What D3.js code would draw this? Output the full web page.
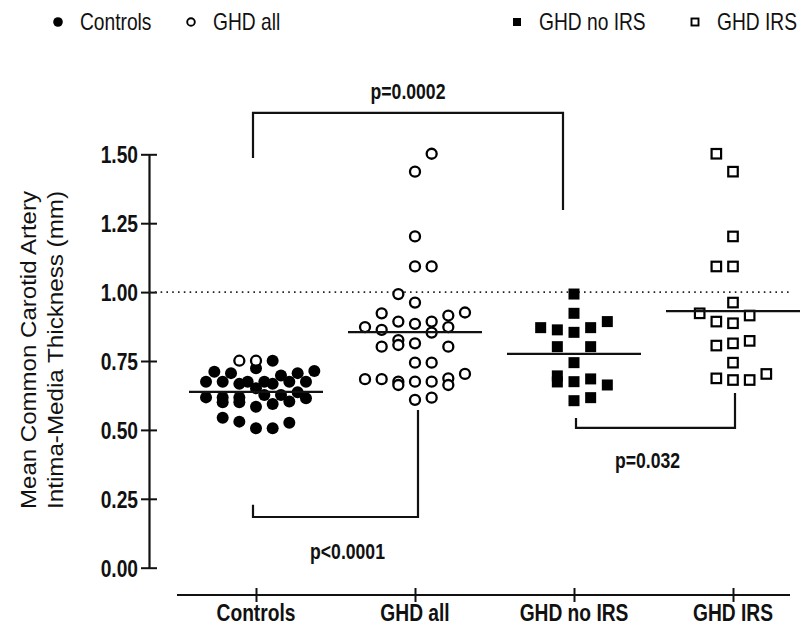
<!DOCTYPE html>
<html>
<head>
<meta charset="UTF-8">
<title>CIMT dot plot</title>
<script src="https://cdn.jsdelivr.net/npm/d3@7"></script>
<style>
  body { margin: 0; background: #fff; }
  text { font-family: "Liberation Sans", Arial, sans-serif; fill: #111; }
</style>
</head>
<body>
<script>
// ---- data ----
var categories = ["Controls", "GHD all", "GHD no IRS", "GHD IRS"];
var yTicks = [0, 0.25, 0.5, 0.75, 1.0, 1.25, 1.5];

// lane = side-by-side slot of a point inside its column (0 = centre)
var controlsVals  = [0.751, 0.724, 0.711, 0.706, 0.714, 0.706, 0.697, 0.675, 0.675, 0.667, 0.675,
                     0.675, 0.667, 0.675, 0.675, 0.651, 0.618, 0.618, 0.618, 0.627, 0.627, 0.637,
                     0.615, 0.600, 0.600, 0.584, 0.594, 0.603, 0.544, 0.530, 0.506, 0.506, 0.526];
var controlsLanes = [2, 0, -5, -3, 7, 5, 3, -6, -4, -2, -1,
                     1, 2, 4, 6, 0, -6, -4, -2, 1, 3, 5,
                     6, -4, -2, 0, 2, 4, -4, -2, 0, 2, 4];
var controlsOpenVals  = [0.751, 0.751];
var controlsOpenLanes = [-2, 0];

var ghdAllVals  = [1.502, 1.437, 1.202, 1.093, 1.093, 0.993, 0.962, 0.923, 0.926, 0.915, 0.893,
                   0.885, 0.893, 0.873, 0.863, 0.873, 0.853, 0.826, 0.808, 0.802, 0.814, 0.802,
                   0.744, 0.744, 0.684, 0.684, 0.675, 0.663, 0.675, 0.675, 0.687, 0.663, 0.703,
                   0.609, 0.617];
var ghdAllLanes = [2, 0, 0, 0, 2, -2, 0, -4, 6, 4, -2,
                   0, 2, -6, -4, 4, 2, -2, -2, -4, 0, 4,
                   0, 2, -6, -4, -2, -2, 0, 2, 4, 4, 6,
                   0, 2];

var ghdNoIrsVals  = [0.993, 0.923, 0.871, 0.863, 0.854, 0.871, 0.893, 0.802, 0.802, 0.744,
                     0.696, 0.674, 0.675, 0.685, 0.663, 0.606, 0.617];
var ghdNoIrsLanes = [0, 0, -4, -2, 0, 2, 4, -2, 2, 0,
                     -2, -2, 0, 2, 4, 0, 2];

var ghdIrsVals  = [1.502, 1.437, 1.202, 1.093, 1.093, 0.962, 0.923, 0.915, 0.893, 0.887,
                   0.806, 0.814, 0.823, 0.744, 0.687, 0.681, 0.681, 0.703];
var ghdIrsLanes = [-2, 0, 0, -2, 0, 0, -4, 2, -2, 0,
                   -2, 0, 2, 0, -2, 0, 2, 4];

var groupMeans = [0.638, 0.855, 0.776, 0.931];
var refValue = 1.0;

var legendLabels = ["Controls", "GHD all", "GHD no IRS", "GHD IRS"];

// ---- layout ----
var W = 806, H = 628;
var sx = 0.8; // text is drawn narrow, like the original
var yAxisX = 149, xAxisY = 595;

var svg = d3.select("body").append("svg")
  .attr("width", W).attr("height", H);

var y = d3.scaleLinear().domain([0, 1.5]).range([567.7, 154.3]);
var x = d3.scalePoint().domain(categories).range([256, 733]);
var lane = d3.scaleLinear().domain([0, 1]).range([0, 8.33]);

function narrowText(g, px, py, str, opts) {
  opts = opts || {};
  return g.append("text")
    .attr("transform", "translate(" + px + "," + py + ") scale(" + sx + ",1)")
    .attr("text-anchor", opts.anchor || "start")
    .style("font-size", (opts.size || 24) + "px")
    .style("font-weight", opts.bold ? "bold" : "normal")
    .text(str);
}

// y axis
var yAxis = svg.append("g")
  .attr("transform", "translate(" + yAxisX + ",0)")
  .call(d3.axisLeft(y).tickValues(yTicks).tickFormat(d3.format(".2f")).tickSizeOuter(0));
yAxis.select(".domain").attr("stroke", "#111").attr("stroke-width", 2.2);
yAxis.selectAll(".tick line").attr("x1", -8).attr("x2", 8).attr("stroke", "#111").attr("stroke-width", 2);
yAxis.selectAll(".tick text")
  .attr("x", -11 / sx).attr("dy", "0.35em")
  .attr("transform", "scale(" + sx + ",1)")
  .style("font-size", "24px").style("font-weight", "bold")
  .style("font-family", "'Liberation Sans', Arial, sans-serif").attr("fill", "#111");

// x axis (drawn offset below the y axis)
svg.append("line")
  .attr("x1", 177).attr("x2", 790).attr("y1", xAxisY).attr("y2", xAxisY)
  .attr("stroke", "#111").attr("stroke-width", 2.2);
var xAxis = svg.append("g")
  .attr("transform", "translate(0," + xAxisY + ")")
  .call(d3.axisBottom(x).tickSizeOuter(0));
xAxis.select(".domain").remove();
xAxis.selectAll(".tick line").attr("y1", -7).attr("y2", 7).attr("stroke", "#111").attr("stroke-width", 2);
xAxis.selectAll(".tick text").remove();
categories.forEach(function(c) {
  narrowText(svg, x(c), 621, c, {anchor: "middle", bold: true});
});

// y title
var yTitle = svg.append("g");
[["Mean Common Carotid Artery", 36], ["Intima-Media Thickness (mm)", 63]].forEach(function(l) {
  yTitle.append("text")
    .attr("transform", "translate(" + l[1] + ",350) scale(0.95,1) rotate(-90)")
    .attr("text-anchor", "middle")
    .style("font-size", "24px")
    .attr("textLength", 318).attr("lengthAdjust", "spacingAndGlyphs")
    .text(l[0]);
});

// reference line at 1.00
svg.append("line")
  .attr("x1", yAxisX).attr("x2", 790)
  .attr("y1", y(refValue)).attr("y2", y(refValue))
  .attr("stroke", "#222").attr("stroke-width", 1.6).attr("stroke-dasharray", "1.6,4.2");

// points
function drawGroup(cat, vals, lanes, shape, filled) {
  var g = svg.append("g");
  var pts = vals.map(function(v, i) { return {v: v, l: lanes[i]}; });
  if (shape === "circle") {
    g.selectAll("circle").data(pts).enter().append("circle")
      .attr("cx", function(d) { return x(cat) + lane(d.l); })
      .attr("cy", function(d) { return y(d.v); })
      .attr("r", filled ? 6 : 5)
      .attr("fill", filled ? "#000" : "#fff")
      .attr("stroke", "#000").attr("stroke-width", filled ? 0 : 2.3);
  } else {
    var s = filled ? 11 : 9.5;
    g.selectAll("rect").data(pts).enter().append("rect")
      .attr("x", function(d) { return x(cat) + lane(d.l) - s / 2; })
      .attr("y", function(d) { return y(d.v) - s / 2; })
      .attr("width", s).attr("height", s)
      .attr("fill", filled ? "#000" : "#fff")
      .attr("stroke", "#000").attr("stroke-width", filled ? 0 : 2.2);
  }
}
drawGroup("Controls", controlsVals, controlsLanes, "circle", true);
drawGroup("Controls", controlsOpenVals, controlsOpenLanes, "circle", false);
drawGroup("GHD all", ghdAllVals, ghdAllLanes, "circle", false);
drawGroup("GHD no IRS", ghdNoIrsVals, ghdNoIrsLanes, "square", true);
drawGroup("GHD IRS", ghdIrsVals, ghdIrsLanes, "square", false);

// mean lines
svg.append("g").selectAll("line").data(groupMeans).enter().append("line")
  .attr("x1", function(d, i) { return x(categories[i]) - 67; })
  .attr("x2", function(d, i) { return x(categories[i]) + 67; })
  .attr("y1", function(d) { return y(d); })
  .attr("y2", function(d) { return y(d); })
  .attr("stroke", "#111").attr("stroke-width", 2.2);

// significance brackets
var brackets = [
  {a: "Controls", b: "GHD no IRS", da: -3, db: -11, level: 1.65, endA: 1.487, endB: 1.298, label: "p=0.0002", dx: 0, dy: -14},
  {a: "Controls", b: "GHD all", da: -3, db: 3, level: 0.184, endA: 0.228, endB: 0.572, label: "p<0.0001", dx: 12, dy: 42},
  {a: "GHD no IRS", b: "GHD IRS", da: 2, db: 2, level: 0.507, endA: 0.543, endB: 0.634, label: "p=0.032", dx: -8, dy: 40}
];
brackets.forEach(function(br) {
  var xa = x(br.a) + br.da, xb = x(br.b) + br.db;
  svg.append("path")
    .attr("d", "M" + xa + "," + y(br.endA) + "V" + y(br.level) + "H" + xb + "V" + y(br.endB))
    .attr("fill", "none").attr("stroke", "#111").attr("stroke-width", 2.2);
  narrowText(svg, (xa + xb) / 2 + br.dx, y(br.level) + br.dy, br.label, {anchor: "middle", bold: true, size: 22});
});

// legend
var lg = svg.append("g");
var legendX = [58, 191, 517, 695];
lg.append("circle").attr("cx", legendX[0]).attr("cy", 22).attr("r", 4.8).attr("fill", "#000");
lg.append("circle").attr("cx", legendX[1]).attr("cy", 22).attr("r", 3.8).attr("fill", "#fff")
  .attr("stroke", "#000").attr("stroke-width", 1.9);
lg.append("rect").attr("x", legendX[2] - 4).attr("y", 18).attr("width", 8).attr("height", 8).attr("fill", "#000");
lg.append("rect").attr("x", legendX[3] - 3.5).attr("y", 18.5).attr("width", 7).attr("height", 7)
  .attr("fill", "#fff").attr("stroke", "#000").attr("stroke-width", 1.9);
legendLabels.forEach(function(t, i) {
  narrowText(lg, legendX[i] + 22, 30, t, {size: 24});
});
</script>
</body>
</html>
